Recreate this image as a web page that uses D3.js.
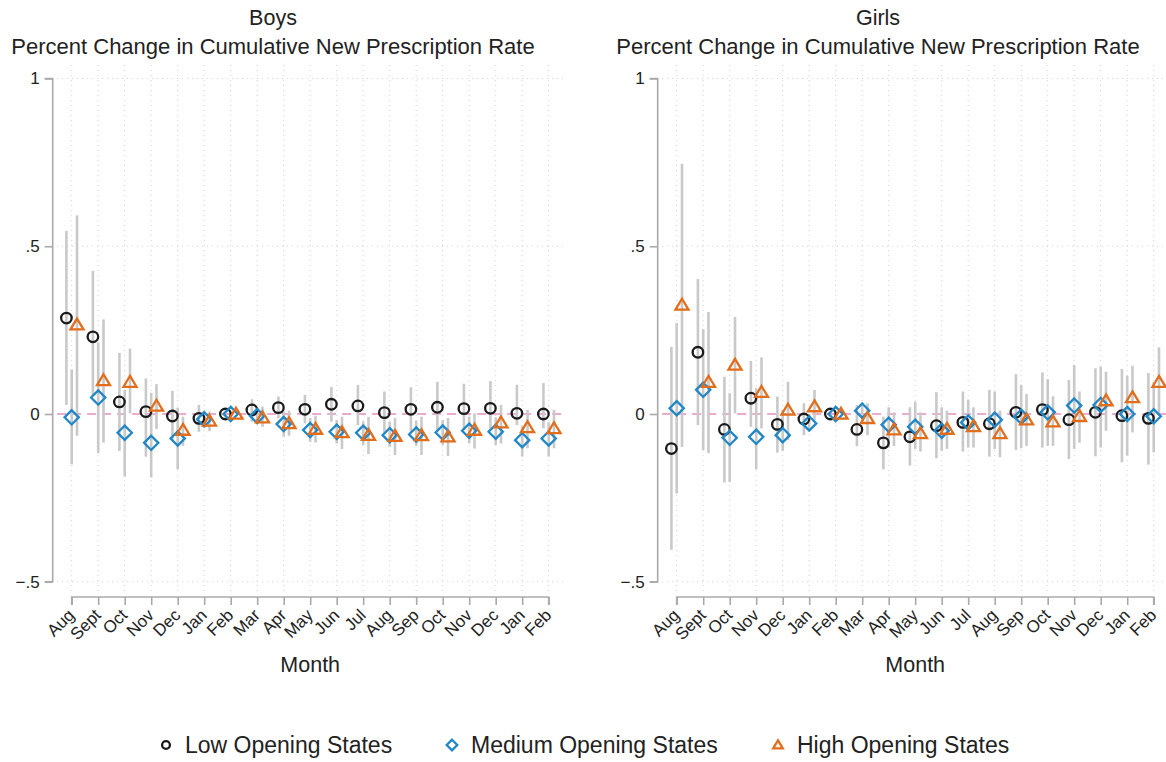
<!DOCTYPE html>
<html>
<head>
<meta charset="utf-8">
<script src="https://cdn.jsdelivr.net/npm/d3@7"></script>
<style>
  body { margin: 0; background: #fff; }
  text { font-family: "Liberation Sans", Arial, sans-serif; fill: #222; }
</style>
</head>
<body>
<svg id="chart" width="1166" height="762"></svg>
<script>
// month labels (x axis)
const months = ["Aug","Sept","Oct","Nov","Dec","Jan","Feb","Mar","Apr","May","Jun","Jul","Aug","Sep","Oct","Nov","Dec","Jan","Feb"];
const yTicks = [1, 0.5, 0, -0.5];

// Boys
const boysLow    = [0.286, 0.23, 0.036, 0.007, -0.006, -0.013, 0, 0.012, 0.019, 0.014, 0.029, 0.024, 0.004, 0.014, 0.02, 0.016, 0.017, 0.002, 0.0];
const boysLowLo  = [0.027, 0.057, -0.11, -0.127, -0.08, -0.053, null, -0.023, -0.013, -0.028, -0.023, -0.033, -0.058, -0.053, -0.048, -0.048, -0.043, -0.033, -0.043];
const boysLowHi  = [0.546, 0.427, 0.182, 0.106, 0.069, 0.027, null, 0.044, 0.052, 0.057, 0.081, 0.087, 0.067, 0.08, 0.096, 0.09, 0.098, 0.087, 0.092];
const boysMed    = [-0.01, 0.049, -0.056, -0.086, -0.073, -0.016, 0, -0.006, -0.03, -0.048, -0.053, -0.056, -0.063, -0.061, -0.055, -0.05, -0.053, -0.078, -0.073];
const boysMedLo  = [-0.15, -0.117, -0.187, -0.189, -0.165, -0.04, null, -0.03, -0.068, -0.083, -0.088, -0.092, -0.098, -0.095, -0.092, -0.088, -0.092, -0.127, -0.127];
const boysMedHi  = [0.133, 0.213, 0.072, 0.063, 0.019, 0.01, null, 0.015, 0.007, -0.012, -0.018, -0.022, -0.023, -0.02, -0.018, -0.008, -0.01, -0.036, -0.025];
const boysHigh   = [0.266, 0.1, 0.095, 0.024, -0.048, -0.021, 0, -0.011, -0.028, -0.045, -0.055, -0.063, -0.066, -0.064, -0.068, -0.048, -0.026, -0.04, -0.043];
const boysHighLo = [-0.065, -0.085, 0.002, -0.045, -0.095, -0.051, null, -0.038, -0.065, -0.085, -0.104, -0.119, -0.122, -0.122, -0.125, -0.103, -0.088, -0.102, -0.102];
const boysHighHi = [0.592, 0.282, 0.195, 0.089, -0.008, 0.007, null, 0.022, 0.01, -0.005, -0.008, -0.009, -0.012, -0.008, -0.012, 0.002, 0.027, 0.012, 0.012];

// Girls
const girlsLow    = [-0.103, 0.184, -0.046, 0.047, -0.031, -0.015, 0, -0.046, -0.086, -0.068, -0.035, -0.025, -0.029, 0.005, 0.013, -0.017, 0.005, -0.005, -0.013];
const girlsLowLo  = [-0.405, -0.033, -0.204, -0.038, -0.115, -0.063, null, -0.096, -0.165, -0.154, -0.132, -0.112, -0.127, -0.107, -0.1, -0.134, -0.126, -0.144, -0.151];
const girlsLowHi  = [0.2, 0.402, 0.111, 0.158, 0.052, 0.032, null, 0.027, -0.008, 0.02, 0.065, 0.067, 0.072, 0.119, 0.124, 0.101, 0.136, 0.134, 0.122];
const girlsMed    = [0.017, 0.072, -0.071, -0.068, -0.063, -0.028, 0, 0.01, -0.032, -0.038, -0.05, -0.025, -0.017, -0.008, 0.005, 0.025, 0.027, 0.0, -0.007];
const girlsMedLo  = [-0.237, -0.107, -0.203, -0.165, -0.11, -0.05, null, -0.02, -0.1, -0.104, -0.11, -0.1, -0.104, -0.102, -0.095, -0.104, -0.1, -0.124, -0.114];
const girlsMedHi  = [0.271, 0.253, 0.062, 0.077, 0.012, 0.0, null, 0.035, 0.02, 0.037, 0.02, 0.043, 0.067, 0.087, 0.104, 0.146, 0.141, 0.114, 0.095];
const girlsHigh   = [0.325, 0.095, 0.146, 0.065, 0.012, 0.022, 0, -0.013, -0.047, -0.058, -0.045, -0.037, -0.058, -0.017, -0.023, -0.007, 0.04, 0.049, 0.095];
const girlsHighLo = [-0.098, -0.117, 0.002, -0.043, -0.078, -0.018, null, -0.063, -0.095, -0.112, -0.104, -0.1, -0.129, -0.095, -0.095, -0.085, -0.05, -0.055, -0.005];
const girlsHighHi = [0.746, 0.304, 0.289, 0.169, 0.096, 0.072, null, 0.032, 0.005, 0.005, 0.01, 0.02, 0.01, 0.06, 0.053, 0.067, 0.126, 0.144, 0.199];

const groups = ["Low Opening States", "Medium Opening States", "High Opening States"];
const colors = ["#1a1a1a", "#1f86c7", "#e26d1b"];
const shapes = ["circle", "diamond", "triangle"];
const offsets = [-0.2, 0, 0.2];

const panels = [
  { title: "Boys", left: 0, series: [[boysLow, boysLowLo, boysLowHi], [boysMed, boysMedLo, boysMedHi], [boysHigh, boysHighLo, boysHighHi]] },
  { title: "Girls", left: 605, series: [[girlsLow, girlsLowLo, girlsLowHi], [girlsMed, girlsMedLo, girlsMedHi], [girlsHigh, girlsHighLo, girlsHighHi]] }
];

const svg = d3.select("#chart");

function marker(sel, shape, color, size) {
  if (shape === "circle") {
    sel.append("circle").attr("r", size * 0.85).attr("fill", "none").attr("stroke", color).attr("stroke-width", 2.3);
  } else if (shape === "diamond") {
    const s = size * 1.15;
    sel.append("path").attr("d", `M0,${-s}L${s},0L0,${s}L${-s},0Z`)
      .attr("fill", "none").attr("stroke", color).attr("stroke-width", 2.3);
  } else {
    const s = size;
    sel.append("path").attr("d", `M0,${-s}L${s * 1.05},${s * 0.75}L${-s * 1.05},${s * 0.75}Z`)
      .attr("fill", "none").attr("stroke", color).attr("stroke-width", 2.3);
  }
}

panels.forEach(p => {
  const g = svg.append("g").attr("transform", `translate(${p.left},0)`);
  const x = d3.scaleLinear().domain([0, 18]).range([71.7, 548.7]);
  const y = d3.scaleLinear().domain([0, 1]).range([414, 78.5]);

  // gridlines
  g.append("g").selectAll("line").data(d3.range(months.length)).join("line")
    .attr("x1", d => x(d)).attr("x2", d => x(d))
    .attr("y1", y(1.04)).attr("y2", y(-0.53))
    .attr("stroke", "#cfcfcf").attr("stroke-width", 1).attr("stroke-dasharray", "1,4");
  g.append("g").selectAll("line").data(yTicks.filter(d => d !== 0)).join("line")
    .attr("x1", x(-0.55)).attr("x2", x(18.55))
    .attr("y1", d => y(d)).attr("y2", d => y(d))
    .attr("stroke", "#cfcfcf").attr("stroke-width", 1).attr("stroke-dasharray", "1,4");
  // zero reference line
  g.append("line")
    .attr("x1", x(-0.55)).attr("x2", x(18.55))
    .attr("y1", y(0)).attr("y2", y(0))
    .attr("stroke", "#e58fc0").attr("stroke-width", 1.6).attr("stroke-dasharray", "9,6");

  // y axis
  const ya = g.append("g").attr("transform", "translate(52.7,0)")
    .call(d3.axisLeft(y).tickValues(yTicks).tickSize(8).tickPadding(5)
      .tickFormat(d => d === 0 ? "0" : d3.format("")(d).replace("0.", ".")));
  ya.selectAll("path, line").attr("stroke", "#aaa").attr("stroke-width", 1.6);
  ya.select("path").attr("d", `M-8,${y(1)}H0V${y(-0.5)}H-8`);
  ya.selectAll("text").attr("font-size", 17).attr("fill", "#222");

  // x axis
  const xa = g.append("g").attr("transform", "translate(0,597)")
    .call(d3.axisBottom(x).tickValues(d3.range(months.length)).tickSize(8)
      .tickFormat(i => months[i]));
  xa.selectAll("path, line").attr("stroke", "#aaa").attr("stroke-width", 1.6);
  xa.select("path").attr("d", `M${x(0)},8V0H${x(18)}V8`);
  xa.selectAll("text").attr("font-size", 17).attr("fill", "#222")
    .attr("text-anchor", "end").attr("x", 0).attr("y", 0).attr("dy", "0.35em")
    .attr("transform", "translate(-1,15) rotate(-45)");

  // error bars
  p.series.forEach((s, k) => {
    const [est, lo, hi] = s;
    g.append("g").selectAll("line").data(d3.range(est.length).filter(i => lo[i] !== null)).join("line")
      .attr("x1", i => x(i + offsets[k])).attr("x2", i => x(i + offsets[k]))
      .attr("y1", i => y(lo[i])).attr("y2", i => y(hi[i]))
      .attr("stroke", "#c9c9c9").attr("stroke-width", 2.6);
  });
  // markers
  p.series.forEach((s, k) => {
    const est = s[0];
    g.append("g").selectAll("g").data(est).join("g")
      .attr("transform", (d, i) => `translate(${x(i + offsets[k])},${y(d)})`)
      .each(function () { marker(d3.select(this), shapes[k], colors[k], 6.2); });
  });

  // titles
  g.append("text").attr("x", 273).attr("y", 25).attr("text-anchor", "middle")
    .attr("font-size", 21.5).text(p.title);
  g.append("text").attr("x", 273).attr("y", 54).attr("text-anchor", "middle")
    .attr("font-size", 22).text("Percent Change in Cumulative New Prescription Rate");
  g.append("text").attr("x", (x(0) + x(18)) / 2).attr("y", 672).attr("text-anchor", "middle")
    .attr("font-size", 21.5).text("Month");
});

// legend
const legendX = [166, 452, 778];
const lg = svg.append("g");
groups.forEach((name, k) => {
  const item = lg.append("g").attr("transform", `translate(${legendX[k]},745)`);
  marker(item, shapes[k], colors[k], 4.6);
  item.append("text").attr("x", 19).attr("y", 8).attr("font-size", 23).text(name);
});
</script>
</body>
</html>
